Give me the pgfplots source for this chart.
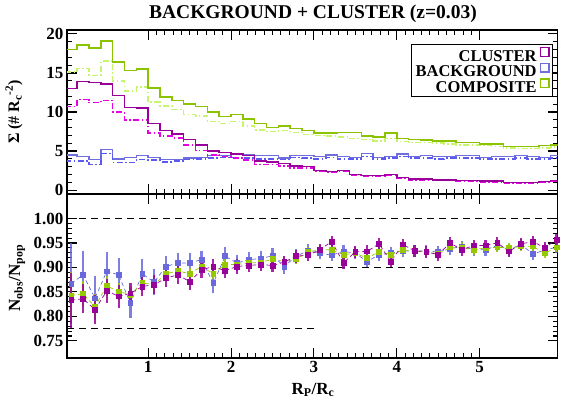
\documentclass[border=0pt]{standalone}
\usepackage{fontspec}
\setmainfont{Liberation Serif}
\usepackage{pgfplots}
\usepackage{pgfplotstable}
\pgfplotsset{compat=1.18}

\definecolor{clC}{RGB}{153,0,153}
\definecolor{clD}{RGB}{230,0,230}
\definecolor{bgC}{RGB}{110,110,220}
\definecolor{bgD}{RGB}{90,90,240}
\definecolor{coC}{RGB}{140,195,0}
\definecolor{coD}{RGB}{200,245,110}
\definecolor{ptM}{RGB}{153,0,153}
\definecolor{ptB}{RGB}{105,105,220}
\definecolor{ptG}{RGB}{150,200,0}

% histogram: left bin edges (width 1/7)
\pgfplotstableread{
x      cl    cld   bg   bgd   co    cod
0.0000 13.0  10.7  4.5  3.75  18.0  15.1
0.1429 13.9  11.6  4.3  3.75  18.6  15.6
0.2857 13.8  11.2  3.9  3.3   18.2  14.7
0.4286 13.6  11.5  5.2  4.7   19.1  16.5
0.5714 12.1  10.0  4.0  3.55  16.4  14.0
0.7143 10.6  9.0   4.2  3.55  15.3  12.7
0.8571 10.5  9.0   4.4  3.9   15.5  13.2
1.0000 8.5   7.3   4.2  3.85  13.1  11.3
1.1429 7.6   6.9   3.9  3.6   11.9  10.8
1.2857 7.2   6.7   3.9  3.7   11.5  10.3
1.4286 6.5   5.8   4.1  3.9   11.0  9.7
1.5714 5.8   5.1   4.2  4.0   10.7  9.5
1.7143 5.0   4.5   4.4  4.1   10.0  8.8
1.8571 4.8   4.3   4.4  4.2   9.4   8.5
2.0000 4.6   4.1   4.6  4.2   9.7   8.8
2.1429 4.4   3.85  4.5  4.1   9.1   8.2
2.2857 3.7   3.25  4.4  4.0   8.5   7.7
2.4286 3.6   3.25  4.4  4.0   8.0   7.5
2.5714 3.4   3.1   4.1  3.9   8.2   7.6
2.7143 3.1   2.8   4.4  4.2   7.9   7.4
2.8571 3.0   2.8   4.4  4.1   7.6   7.1
3.0000 2.5   2.4   4.3  4.0   7.3   7.0
3.1429 2.4   2.3   4.5  4.2   7.3   6.9
3.2857 2.5   2.4   4.3  4.0   7.4   6.8
3.4286 2.0   1.9   4.2  4.0   7.4   6.6
3.5714 1.9   1.8   4.7  4.3   6.9   6.5
3.7143 1.85  1.75  4.2  4.0   6.8   6.3
3.8571 2.0   1.9   4.3  4.1   7.3   6.6
4.0000 1.6   1.5   4.6  4.3   6.6   6.2
4.1429 1.4   1.3   4.3  4.1   6.5   6.1
4.2857 1.4   1.3   4.4  4.1   6.4   6.1
4.4286 1.3   1.2   4.3  4.0   6.3   6.0
4.5714 1.3   1.2   4.3  4.1   6.3   5.9
4.7143 1.2   1.1   4.4  4.1   6.1   5.8
4.8571 1.2   1.1   4.4  4.1   6.1   5.8
5.0000 1.15  1.05  4.2  4.0   5.9   5.7
5.1429 1.15  1.05  4.3  4.0   5.9   5.6
5.2857 1.0   0.9   4.3  4.0   5.6   5.4
5.4286 0.95  0.85  4.4  4.1   5.6   5.3
5.5714 0.95  0.85  4.3  4.0   5.6   5.3
5.7143 1.1   1.0   4.2  4.0   5.7   5.4
5.8571 1.2   1.1   4.4  4.1   5.8   5.5
6.0000 1.2   1.1   4.4  4.1   5.8   5.5
}\histtab

% ratio points at bin centres
\pgfplotstableread{
x      m      me     b      be     g      ge
0.0714 0.833  0.056  0.867  0.083  0.843  0.047
0.2143 0.836  0.030  0.885  0.048  0.846  0.026
0.3571 0.814  0.030  0.837  0.045  0.820  0.025
0.5000 0.852  0.025  0.892  0.040  0.862  0.020
0.6429 0.841  0.024  0.885  0.035  0.851  0.018
0.7857 0.847  0.022  0.827  0.031  0.844  0.017
0.9286 0.861  0.020  0.887  0.030  0.868  0.016
1.0714 0.865  0.020  0.870  0.027  0.865  0.015
1.2143 0.878  0.018  0.902  0.022  0.887  0.014
1.3571 0.885  0.018  0.909  0.020  0.893  0.013
1.5000 0.871  0.017  0.909  0.020  0.887  0.012
1.6429 0.895  0.016  0.916  0.018  0.902  0.012
1.7857 0.902  0.016  0.868  0.020  0.887  0.011
1.9286 0.893  0.015  0.923  0.018  0.906  0.011
2.0714 0.902  0.015  0.909  0.017  0.906  0.010
2.2143 0.904  0.014  0.916  0.016  0.909  0.010
2.3571 0.906  0.014  0.918  0.016  0.910  0.010
2.5000 0.904  0.013  0.924  0.015  0.917  0.010
2.6429 0.911  0.013  0.902  0.015  0.912  0.010
2.7857 0.923  0.013  0.923  0.015  0.917  0.010
2.9286 0.925  0.012  0.934  0.013  0.932  0.010
3.0714 0.936  0.012  0.929  0.012  0.936  0.010
3.2143 0.953  0.012  0.925  0.012  0.936  0.010
3.3571 0.909  0.012  0.933  0.012  0.926  0.010
3.5000 0.932  0.012  0.929  0.012  0.929  0.010
3.6429 0.933  0.012  0.912  0.012  0.919  0.010
3.7857 0.948  0.012  0.926  0.012  0.932  0.010
3.9286 0.912  0.012  0.929  0.012  0.926  0.010
4.0714 0.947  0.012  0.933  0.012  0.936  0.010
4.2143 0.934  0.012  0.934  0.012  0.933  0.010
4.3571 0.932  0.012  0.933  0.012  0.932  0.010
4.5000 0.926  0.012  0.932  0.012  0.927  0.010
4.6429 0.950  0.012  0.938  0.012  0.941  0.010
4.7857 0.936  0.012  0.943  0.012  0.941  0.010
4.9286 0.945  0.012  0.936  0.012  0.936  0.010
5.0714 0.945  0.012  0.936  0.012  0.940  0.010
5.2143 0.950  0.012  0.945  0.012  0.941  0.010
5.3571 0.933  0.012  0.936  0.012  0.940  0.010
5.5000 0.948  0.012  0.947  0.012  0.943  0.010
5.6429 0.953  0.012  0.927  0.012  0.943  0.010
5.7857 0.940  0.012  0.936  0.012  0.929  0.010
5.9286 0.957  0.012  0.941  0.012  0.941  0.010
}\ratiotab

\pgfplotsset{
  panel/.style={
    scale only axis, width=490.5pt, height=164pt,
    xmin=0.02, xmax=5.94,
    axis line style={line width=1.6pt},
    tick style={line width=1.1pt, black},
    major tick length=10pt, minor tick length=5pt,
    tick align=inside, xtick pos=both, ytick pos=both,
    xtick={1,2,3,4,5}, minor x tick num=9,
    tick label style={font=\bfseries\fontsize{17}{17}\selectfont},
    /pgf/number format/assume math mode=true,
    clip=true,
  },
  hist/.style={const plot mark left, line width=1.5pt, no marks},
  hdash/.style={const plot mark left, line width=1.5pt, no marks,
    dash pattern=on 6pt off 2.5pt on 1.5pt off 2.5pt},
  ratio/.style={line width=0.7pt, dash pattern=on 4pt off 3pt,
    mark=square*, mark size=2.4pt, mark options={solid},
    error bars/y dir=both, error bars/y explicit,
    error bars/error bar style={line width=2.2pt, solid, opacity=0.85},
    error bars/error mark=none},
}

\begin{document}
\bfseries
\begin{tikzpicture}[x=1pt,y=1pt]
\useasboundingbox (0,0) rectangle (562,400);

\node[font=\bfseries\fontsize{19.5}{20}\selectfont] at (313,386) {BACKGROUND + CLUSTER (z=0.03)};

\begin{axis}[panel, at={(67pt,206pt)}, anchor=south west,
  ymin=-0.5, ymax=20.5, ytick={0,5,10,15,20}, minor y tick num=4,
  xticklabels={},
  legend style={at={(0.9915,0.915)}, anchor=north east, draw=black, line width=1.3pt,
    font=\bfseries\fontsize{16.5}{14}\selectfont, fill=white,
    inner xsep=3pt, inner ysep=2.5pt, row sep=0pt, column sep=2pt,
    nodes={inner sep=1.2pt, text height=11.3pt, text depth=0pt}},
  legend cell align=right, legend plot pos=right,
  legend image code/.code={\draw[#1, line width=1.4pt, solid] (0pt,-0.5pt) rectangle (8.5pt,8pt);},
]
\addplot[hist, bgC, forget plot] table[x=x, y=bg] {\histtab};
\addplot[hdash, bgD, forget plot] table[x=x, y=bgd] {\histtab};
\addplot[hdash, coD, forget plot] table[x=x, y=cod] {\histtab};
\addplot[hist, coC, forget plot] table[x=x, y=co] {\histtab};
\addplot[hdash, clD, forget plot] table[x=x, y=cld] {\histtab};
\addplot[hist, clC, forget plot] table[x=x, y=cl] {\histtab};
\addlegendimage{clC}
\addlegendentry{CLUSTER}
\addlegendimage{bgC}
\addlegendentry{BACKGROUND}
\addlegendimage{coC}
\addlegendentry{COMPOSITE}
\end{axis}

\begin{axis}[panel, at={(67pt,42pt)}, anchor=south west,
  ymin=0.715, ymax=1.05,
  ytick={0.75,0.80,0.85,0.90,0.95,1.00},
  yticklabels={0.75,0.80,0.85,0.90,0.95,1.00},
  minor y tick num=4,
]
\addplot[black, line width=0.9pt, dash pattern=on 7pt off 5pt] coordinates {(0.02,1.0) (5.94,1.0)};
\addplot[black, line width=0.9pt, dash pattern=on 7pt off 5pt] coordinates {(0.02,0.775) (3.0,0.775)};
\addplot[black, line width=0.9pt, dash pattern=on 7pt off 5pt] coordinates {(3.0,0.9) (5.94,0.9)};
\addplot[ratio, color=ptB] table[x=x, y=b, y error=be] {\ratiotab};
\addplot[ratio, color=ptG] table[x=x, y=g, y error=ge] {\ratiotab};
\addplot[ratio, color=ptM] table[x=x, y=m, y error=me] {\ratiotab};
\end{axis}

\node[font=\bfseries\fontsize{16}{16}\selectfont, rotate=90] at (14,288) {Σ (\# R\textsubscript{c}\textsuperscript{-2})};
\node[font=\bfseries\fontsize{17}{17}\selectfont, rotate=90] at (17,122) {N\textsubscript{obs}/N\textsubscript{pop}};
\node[font=\bfseries\fontsize{17}{17}\selectfont] at (313,10) {R\textsubscript{P}/R\textsubscript{c}};
\end{tikzpicture}
\end{document}
